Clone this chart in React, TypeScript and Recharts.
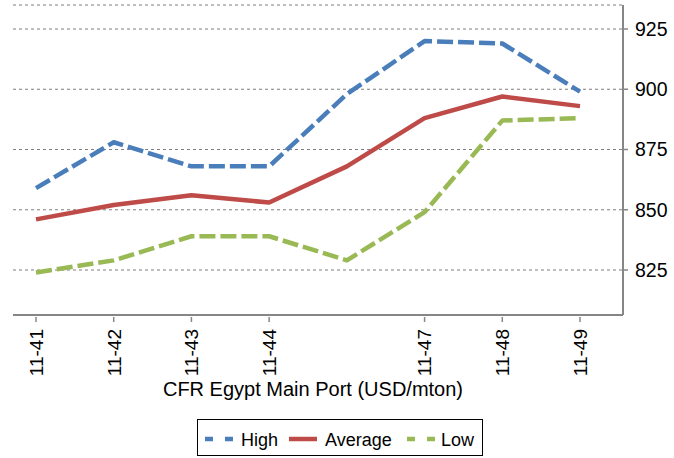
import React from 'react';
import { LineChart, Line, XAxis, YAxis, CartesianGrid, Legend, Label } from 'recharts';

const categories = ['11-41', '11-42', '11-43', '11-44', '11-46', '11-47', '11-48', '11-49'];
const tickLabels = ['11-41', '11-42', '11-43', '11-44', '', '11-47', '11-48', '11-49'];
const highValues = [859, 878, 868, 868, 898, 920, 919, 899];
const averageValues = [846, 852, 856, 853, 868, 888, 897, 893];
const lowValues = [824, 829, 839, 839, 829, 849, 887, 888];
const yTicks = [825, 850, 875, 900, 925];

const data = categories.map((c, i) => ({
  cat: c,
  label: tickLabels[i],
  High: highValues[i],
  Average: averageValues[i],
  Low: lowValues[i],
}));

const FONT = 'Liberation Sans, Arial, sans-serif';
const BLUE = '#4A7EBB';
const RED = '#BE4B48';
const GREEN = '#98B954';

const XTick = (props: any) => {
  const { x, y, index } = props;
  const label = tickLabels[index];
  if (!label) return null;
  return (
    <g>
      <line x1={x} y1={y - 6} x2={x} y2={y - 1} stroke="#868686" strokeWidth={1.5} />
      <text
        transform={`translate(${x},${y + 6}) rotate(-90)`}
        textAnchor="end"
        dy="0.36em"
        fontSize={19}
        fontFamily={FONT}
        fill="#000"
      >
        {label}
      </text>
    </g>
  );
};

const AxisTitle = (props: any) => {
  const vb = props.viewBox || { x: 13, y: 315, width: 610 };
  return (
    <text
      x={vb.x + vb.width / 2 - 5}
      y={vb.y + 81}
      textAnchor="middle"
      fontSize={20}
      fontFamily={FONT}
      fill="#000"
    >
      CFR Egypt Main Port (USD/mton)
    </text>
  );
};

const LegendBox = () => (
  <svg width={287} height={38} style={{ display: 'block' }}>
    <rect x={0.5} y={0.5} width={285} height={36} fill="#fff" stroke="#000" strokeWidth={1} />
    <line x1={8} y1={20} x2={36} y2={20} stroke={BLUE} strokeWidth={4.5} strokeDasharray="8 12" />
    <text x={44} y={26.5} fontSize={18} fontFamily={FONT} fill="#000">High</text>
    <line x1={92} y1={20} x2={120} y2={20} stroke={RED} strokeWidth={4.5} />
    <text x={128} y={26.5} fontSize={18} fontFamily={FONT} fill="#000">Average</text>
    <line x1={210} y1={20} x2={238} y2={20} stroke={GREEN} strokeWidth={4.5} strokeDasharray="8 12" />
    <text x={244} y={26.5} fontSize={18} fontFamily={FONT} fill="#000">Low</text>
  </svg>
);

export default function App() {
  return (
    <div style={{ position: 'absolute', left: 0, top: 0, width: 674, height: 458, background: '#fff' }}>
      <LineChart width={674} height={458} data={data} margin={{ top: 5, right: 0, left: 13, bottom: 0 }}>
        <CartesianGrid
          horizontal={true}
          vertical={false}
          stroke="#7f7f7f"
          strokeDasharray="3 3"
          strokeWidth={1}
        />
        <XAxis
          dataKey="cat"
          height={143}
          interval={0}
          padding={{ left: 23, right: 43 }}
          axisLine={{ stroke: '#868686', strokeWidth: 2 }}
          tickLine={false}
          tick={<XTick />}
        >
          <Label content={<AxisTitle />} />
        </XAxis>
        <YAxis
          orientation="right"
          width={51}
          domain={[806.33, 934.96]}
          ticks={yTicks}
          allowDataOverflow
          axisLine={{ stroke: '#868686', strokeWidth: 2 }}
          tickLine={{ stroke: '#868686', strokeWidth: 1.5 }}
          tickSize={5}
          tickMargin={7}
          tick={{ fill: '#000', fontSize: 19.5, fontFamily: FONT }}
        />
        <Line
          type="linear"
          dataKey="High"
          stroke={BLUE}
          strokeWidth={4.5}
          strokeDasharray="16 5"
          strokeLinejoin="round"
          dot={false}
          isAnimationActive={false}
        />
        <Line
          type="linear"
          dataKey="Average"
          stroke={RED}
          strokeWidth={4.5}
          strokeLinejoin="round"
          dot={false}
          isAnimationActive={false}
        />
        <Line
          type="linear"
          dataKey="Low"
          stroke={GREEN}
          strokeWidth={4.5}
          strokeDasharray="16 5"
          strokeLinejoin="round"
          dot={false}
          isAnimationActive={false}
        />
        <Legend
          layout="vertical"
          align="center"
          verticalAlign="middle"
          wrapperStyle={{ left: 197, top: 419, width: 287, height: 38 }}
          content={() => <LegendBox />}
        />
      </LineChart>
    </div>
  );
}
